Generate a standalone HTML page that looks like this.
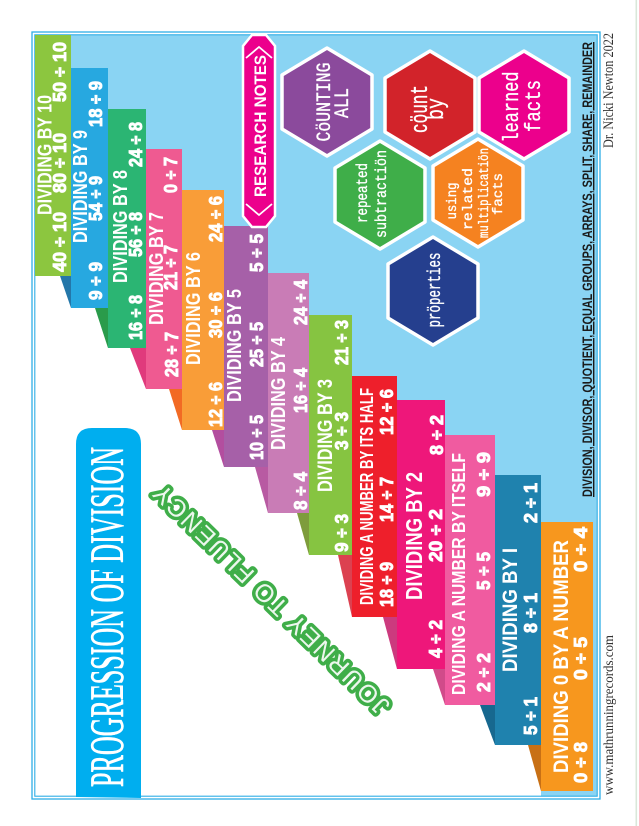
<!DOCTYPE html>
<html><head><meta charset="utf-8"><style>
html,body{margin:0;padding:0;background:#fff;}
svg{display:block;}
.t{font-family:"Liberation Sans Narrow","Liberation Sans",sans-serif;font-weight:bold;fill:#fff;}
.n{font-family:"Liberation Sans",sans-serif;font-weight:bold;fill:#fff;stroke:#fff;stroke-width:0.9;font-size:18px;}
.h{font-family:"Liberation Mono","DejaVu Sans Mono",monospace;fill:#fff;stroke:#fff;stroke-width:0.35;text-anchor:middle;}
</style></head><body>
<svg width="639" height="826" viewBox="0 0 639 826" xmlns="http://www.w3.org/2000/svg">
<rect width="639" height="826" fill="#fff"/>
<rect x="635.5" y="0" width="1.6" height="826" fill="#d9e7d9"/>
<!-- panel -->
<rect x="35" y="35" width="562" height="761" fill="#8ad4f3"/>
<polygon fill="#fff" points="35,276 71,276 71,308 108,308 108,348 146,348 146,389 182,389 182,430 224,430 224,467 268,467 268,513 309,513 309,555 352,555 352,617 397,617 397,669 445,669 445,705 495,705 495,745 541,745 541,796 35,796"/>
<!-- frame -->
<rect x="32" y="32" width="568" height="767" fill="none" stroke="#2eaee6" stroke-width="1.3"/>
<rect x="34.8" y="34.8" width="562.4" height="761.4" fill="none" stroke="#2eaee6" stroke-width="1.1"/>

<!-- shadows -->
<polygon fill="#2477a9" points="60,276 71,276 71,308"/>
<polygon fill="#2a9b4b" points="95,308 108,308 108,348"/>
<polygon fill="#e03a7c" points="130,348 146,348 146,389"/>
<polygon fill="#f26a24" points="169,389 182,389 182,430"/>
<polygon fill="#b34e9f" points="212,430 224,430 224,467"/>
<polygon fill="#b85aa2" points="255,467 268,467 268,513"/>
<polygon fill="#7e9c3c" points="297,513 309,513 309,555"/>
<polygon fill="#dc4150" points="338,555 352,555 352,617"/>
<polygon fill="#cc3a7e" points="383,617 397,617 397,669"/>
<polygon fill="#d14b8a" points="433,669 445,669 445,705"/>
<polygon fill="#17688f" points="480,705 495,705 495,745"/>
<polygon fill="#c87015" points="528,745 541,745 541,791"/>

<!-- bars -->
<rect x="35" y="35" width="36" height="241" fill="#8cc63f"/>
<rect x="71" y="68" width="37" height="240" fill="#27a8e0"/>
<rect x="108" y="109" width="38" height="239" fill="#2bb573"/>
<rect x="146" y="149" width="36" height="240" fill="#ef5a91"/>
<rect x="182" y="190" width="42" height="240" fill="#f99d38"/>
<rect x="224" y="226" width="44" height="241" fill="#a660a8"/>
<rect x="268" y="273" width="41" height="240" fill="#c97cb6"/>
<rect x="309" y="315" width="43" height="240" fill="#86c441"/>
<rect x="352" y="376" width="45" height="241" fill="#ee1f2b"/>
<rect x="397" y="400" width="48" height="269" fill="#ee177a"/>
<rect x="445" y="435" width="50" height="270" fill="#f05ba0"/>
<rect x="495" y="475" width="46" height="270" fill="#1f82ae"/>
<rect x="541" y="522" width="52" height="269" fill="#f7971e"/>

<!-- bar texts -->
<text class="t" font-size="20" transform="translate(51.5,215) rotate(-90)" textLength="120" lengthAdjust="spacingAndGlyphs">DIVIDING BY 10</text>
<text class="n" transform="translate(66,272) rotate(-90)" textLength="60" lengthAdjust="spacingAndGlyphs">40 ÷ 10</text>
<text class="n" transform="translate(66,193) rotate(-90)" textLength="60" lengthAdjust="spacingAndGlyphs">80 ÷ 10</text>
<text class="n" transform="translate(66,102) rotate(-90)" textLength="60" lengthAdjust="spacingAndGlyphs">50 ÷ 10</text>

<text class="t" font-size="20" transform="translate(87,243) rotate(-90)" textLength="113" lengthAdjust="spacingAndGlyphs">DIVIDING BY 9</text>
<text class="n" transform="translate(102,300) rotate(-90)" textLength="38" lengthAdjust="spacingAndGlyphs">9 ÷ 9</text>
<text class="n" transform="translate(102,221) rotate(-90)" textLength="45" lengthAdjust="spacingAndGlyphs">54 ÷ 9</text>
<text class="n" transform="translate(102,127) rotate(-90)" textLength="46" lengthAdjust="spacingAndGlyphs">18 ÷ 9</text>

<text class="t" font-size="20" transform="translate(127,283) rotate(-90)" textLength="113" lengthAdjust="spacingAndGlyphs">DIVIDING BY 8</text>
<text class="n" transform="translate(142,340) rotate(-90)" textLength="45" lengthAdjust="spacingAndGlyphs">16 ÷ 8</text>
<text class="n" transform="translate(142,257) rotate(-90)" textLength="45" lengthAdjust="spacingAndGlyphs">56 ÷ 8</text>
<text class="n" transform="translate(142,167) rotate(-90)" textLength="45" lengthAdjust="spacingAndGlyphs">24 ÷ 8</text>

<text class="t" font-size="20" transform="translate(163,325) rotate(-90)" textLength="113" lengthAdjust="spacingAndGlyphs">DIVIDING BY 7</text>
<text class="n" transform="translate(178,377) rotate(-90)" textLength="45" lengthAdjust="spacingAndGlyphs">28 ÷ 7</text>
<text class="n" transform="translate(177,290) rotate(-90)" textLength="45" lengthAdjust="spacingAndGlyphs">21 ÷ 7</text>
<text class="n" transform="translate(177,193) rotate(-90)" textLength="36" lengthAdjust="spacingAndGlyphs">0 ÷ 7</text>

<text class="t" font-size="20" transform="translate(200,365) rotate(-90)" textLength="113" lengthAdjust="spacingAndGlyphs">DIVIDING BY 6</text>
<text class="n" transform="translate(222,427) rotate(-90)" textLength="45" lengthAdjust="spacingAndGlyphs">12 ÷ 6</text>
<text class="n" transform="translate(222,338) rotate(-90)" textLength="46" lengthAdjust="spacingAndGlyphs">30 ÷ 6</text>
<text class="n" transform="translate(222,242) rotate(-90)" textLength="46" lengthAdjust="spacingAndGlyphs">24 ÷ 6</text>

<text class="t" font-size="20" transform="translate(241,402) rotate(-90)" textLength="113" lengthAdjust="spacingAndGlyphs">DIVIDING BY 5</text>
<text class="n" transform="translate(263,460) rotate(-90)" textLength="45" lengthAdjust="spacingAndGlyphs">10 ÷ 5</text>
<text class="n" transform="translate(263,367) rotate(-90)" textLength="45" lengthAdjust="spacingAndGlyphs">25 ÷ 5</text>
<text class="n" transform="translate(263,272) rotate(-90)" textLength="38" lengthAdjust="spacingAndGlyphs">5 ÷ 5</text>

<text class="t" font-size="20" transform="translate(285,450) rotate(-90)" textLength="113" lengthAdjust="spacingAndGlyphs">DIVIDING BY 4</text>
<text class="n" transform="translate(307,510) rotate(-90)" textLength="38" lengthAdjust="spacingAndGlyphs">8 ÷ 4</text>
<text class="n" transform="translate(307,413) rotate(-90)" textLength="45" lengthAdjust="spacingAndGlyphs">16 ÷ 4</text>
<text class="n" transform="translate(307,325) rotate(-90)" textLength="45" lengthAdjust="spacingAndGlyphs">24 ÷ 4</text>

<text class="t" font-size="21" transform="translate(332,492) rotate(-90)" textLength="113" lengthAdjust="spacingAndGlyphs">DIVIDING BY 3</text>
<text class="n" transform="translate(348,552) rotate(-90)" textLength="38" lengthAdjust="spacingAndGlyphs">9 ÷ 3</text>
<text class="n" transform="translate(348,450) rotate(-90)" textLength="38" lengthAdjust="spacingAndGlyphs">3 ÷ 3</text>
<text class="n" transform="translate(348,365) rotate(-90)" textLength="45" lengthAdjust="spacingAndGlyphs">21 ÷ 3</text>

<text class="t" font-size="18" transform="translate(373,605) rotate(-90)" textLength="217" lengthAdjust="spacingAndGlyphs">DIVIDING A NUMBER BY ITS HALF</text>
<text class="n" transform="translate(393,607) rotate(-90)" textLength="45" lengthAdjust="spacingAndGlyphs">18 ÷ 9</text>
<text class="n" transform="translate(393,522) rotate(-90)" textLength="45" lengthAdjust="spacingAndGlyphs">14 ÷ 7</text>
<text class="n" transform="translate(393,435) rotate(-90)" textLength="46" lengthAdjust="spacingAndGlyphs">12 ÷ 6</text>

<text class="t" font-size="23" transform="translate(422,600) rotate(-90)" textLength="128" lengthAdjust="spacingAndGlyphs">DIVIDING BY 2</text>
<text class="n" transform="translate(442,658) rotate(-90)" textLength="38" lengthAdjust="spacingAndGlyphs">4 ÷ 2</text>
<text class="n" transform="translate(442,562) rotate(-90)" textLength="53" lengthAdjust="spacingAndGlyphs">20 ÷ 2</text>
<text class="n" transform="translate(443,455) rotate(-90)" textLength="40" lengthAdjust="spacingAndGlyphs">8 ÷ 2</text>

<text class="t" font-size="18" transform="translate(465,695) rotate(-90)" textLength="242" lengthAdjust="spacingAndGlyphs">DIVIDING A NUMBER BY ITSELF</text>
<text class="n" transform="translate(490,692) rotate(-90)" textLength="39" lengthAdjust="spacingAndGlyphs">2 ÷ 2</text>
<text class="n" transform="translate(490,590) rotate(-90)" textLength="38" lengthAdjust="spacingAndGlyphs">5 ÷ 5</text>
<text class="n" transform="translate(490,497) rotate(-90)" textLength="45" lengthAdjust="spacingAndGlyphs">9 ÷ 9</text>

<text class="t" font-size="21" transform="translate(517,672) rotate(-90)" textLength="124" lengthAdjust="spacingAndGlyphs">DIVIDING BY I</text>
<text class="n" transform="translate(537,735) rotate(-90)" textLength="38" lengthAdjust="spacingAndGlyphs">5 ÷ 1</text>
<text class="n" transform="translate(537,633) rotate(-90)" textLength="40" lengthAdjust="spacingAndGlyphs">8 ÷ 1</text>
<text class="n" transform="translate(537,523) rotate(-90)" textLength="40" lengthAdjust="spacingAndGlyphs">2 ÷ 1</text>

<text class="t" font-size="21" transform="translate(568,773) rotate(-90)" textLength="233" lengthAdjust="spacingAndGlyphs">DIVIDING 0 BY A NUMBER</text>
<text class="n" transform="translate(587,783) rotate(-90)" textLength="41" lengthAdjust="spacingAndGlyphs">0 ÷ 8</text>
<text class="n" transform="translate(587,680) rotate(-90)" textLength="43" lengthAdjust="spacingAndGlyphs">0 ÷ 5</text>
<text class="n" transform="translate(587,572) rotate(-90)" textLength="45" lengthAdjust="spacingAndGlyphs">0 ÷ 4</text>

<!-- research notes badge -->
<polygon points="252,35 266,35 275,46 275,216 266,227 252,227 243,216 243,46" fill="#ec008c" stroke="#fff" stroke-width="2.5"/>
<polyline points="246,58 259,47 272,58" fill="none" stroke="#fff" stroke-width="1.8"/>
<polyline points="246,204 259,215 272,204" fill="none" stroke="#fff" stroke-width="1.8"/>
<text class="t" font-size="17" transform="translate(266,197) rotate(-90)" textLength="142" lengthAdjust="spacingAndGlyphs">RESEARCH NOTES</text>

<!-- hexagons -->
<g stroke="#fff" stroke-width="3.5" stroke-linejoin="round">
<polygon fill="#8b4a9c" points="327,48 372,75 372,129 327,156 282,129 282,75"/>
<polygon fill="#d2232a" points="430,51 475,78 475,132 430,159 385,132 385,78"/>
<polygon fill="#ec008c" points="524,51 569,78 569,132 524,159 479,132 479,78"/>
<polygon fill="#3fae49" points="380,141 425,168 425,222 380,249 335,222 335,168"/>
<polygon fill="#f58220" points="478,139 523,166 523,220 478,247 433,220 433,166"/>
<polygon fill="#253f8e" points="433,237 478,264 478,318 433,345 388,318 388,264"/>
</g>
<g transform="translate(327,102) rotate(-90)">
<text class="h" font-size="20" x="0" y="3" textLength="79" lengthAdjust="spacingAndGlyphs">CöUNTING</text>
<text class="h" font-size="20" x="-1" y="21" textLength="30" lengthAdjust="spacingAndGlyphs">ALL</text>
</g>
<g transform="translate(430,105) rotate(-90)">
<text class="h" font-size="24" x="-4" y="-3" textLength="48" lengthAdjust="spacingAndGlyphs" stroke-width="0.9">cöunt</text>
<text class="h" font-size="24" x="-4" y="13" textLength="22" lengthAdjust="spacingAndGlyphs" stroke-width="0.9">by</text>
</g>
<g transform="translate(524,105) rotate(-90)">
<text class="h" font-size="22" x="-2" y="-6" textLength="71" lengthAdjust="spacingAndGlyphs">learned</text>
<text class="h" font-size="22" x="-1" y="16" textLength="52" lengthAdjust="spacingAndGlyphs">facts</text>
</g>
<g transform="translate(380,195) rotate(-90)">
<text class="h" font-size="16" x="2" y="-13" textLength="60" lengthAdjust="spacingAndGlyphs">repeated</text>
<text class="h" font-size="16" x="1" y="6" textLength="88" lengthAdjust="spacingAndGlyphs">subtractiön</text>
</g>
<g transform="translate(478,193) rotate(-90)">
<text class="h" font-size="14" x="-8" y="-22" textLength="37" lengthAdjust="spacingAndGlyphs">using</text>
<text class="h" font-size="14" x="-6" y="-6" textLength="62" lengthAdjust="spacingAndGlyphs">related</text>
<text class="h" font-size="14" x="0" y="10" textLength="90" lengthAdjust="spacingAndGlyphs">multiplicatiön</text>
<text class="h" font-size="14" x="-1" y="24" textLength="42" lengthAdjust="spacingAndGlyphs">facts</text>
</g>
<g transform="translate(433,291) rotate(-90)">
<text class="h" font-size="18" x="1" y="7" textLength="75" lengthAdjust="spacingAndGlyphs">pröperties</text>
</g>

<!-- title box -->
<path d="M76,797 L76,444 Q76,428 92,428 L125,428 Q141,428 141,444 L141,798 Z" fill="#00aeef"/>
<text transform="translate(123,787) rotate(-90)" font-family="Liberation Serif, serif" font-size="48" fill="#fff" stroke="#fff" stroke-width="0.8" textLength="340" lengthAdjust="spacingAndGlyphs">PROGRESSION OF DIVISION</text>

<!-- journey to fluency -->
<g transform="translate(271,600) rotate(-135.8)" font-family="Liberation Sans, sans-serif" font-size="25" text-anchor="middle">
<text x="0" y="0" dy="0.36em" fill="#3fae49" stroke="#3fae49" stroke-width="7" stroke-linejoin="round" textLength="318" lengthAdjust="spacing">JOURNEY TO FLUENCY</text>
<text x="0" y="0" dy="0.36em" fill="#fff" stroke="none" textLength="318" lengthAdjust="spacing" opacity="0.9">JOURNEY TO FLUENCY</text>
</g>

<!-- footer texts -->
<text transform="translate(592,497) rotate(-90)" font-family="Liberation Sans Narrow, Liberation Sans, sans-serif" font-weight="bold" font-size="14" fill="#1a1a1a" textLength="455" lengthAdjust="spacingAndGlyphs" text-decoration="underline">DIVISION, DIVISOR, QUOTIENT, EQUAL GROUPS, ARRAYS, SPLIT, SHARE, REMAINDER</text>
<text transform="translate(613,148) rotate(-90)" font-family="Liberation Serif, serif" font-size="14.5" fill="#333" textLength="115" lengthAdjust="spacingAndGlyphs">Dr. Nicki Newton 2022</text>
<text transform="translate(613,795) rotate(-90)" font-family="Liberation Serif, serif" font-size="14" fill="#333" textLength="160" lengthAdjust="spacingAndGlyphs">www.mathrunningrecords.com</text>
</svg>
</body></html>
